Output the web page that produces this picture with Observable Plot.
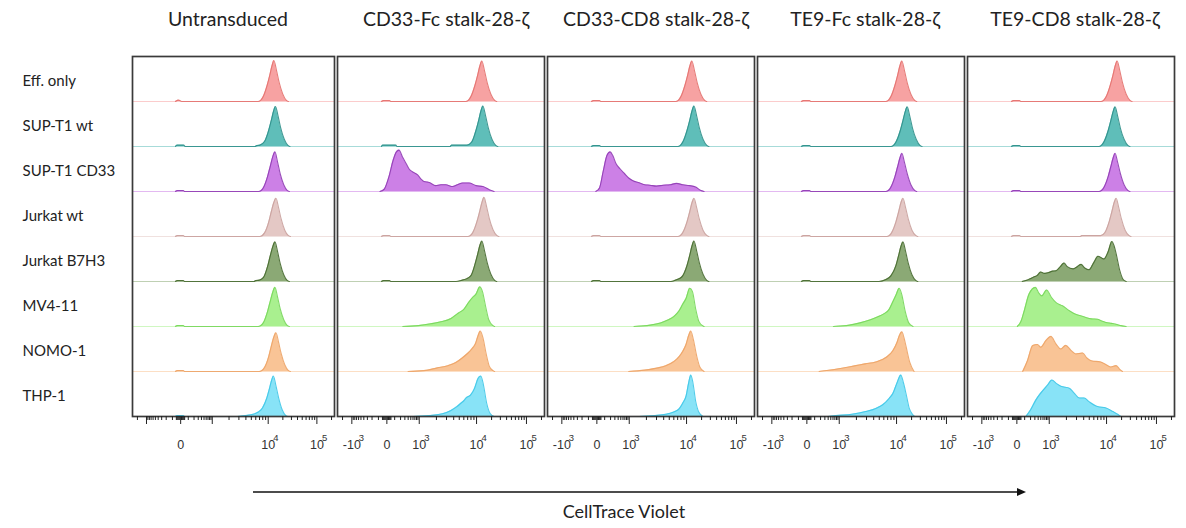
<!DOCTYPE html>
<html><head><meta charset="utf-8">
<script src="https://cdn.jsdelivr.net/npm/d3@7"></script>
<script src="https://cdn.jsdelivr.net/npm/@observablehq/plot@0.6"></script>
<style>
html,body{margin:0;padding:0;background:#fff;}
#chart{position:relative;width:1186px;height:528px;overflow:hidden;font-family:Lato,"Open Sans",sans-serif;color:#222;}
.title{position:absolute;top:9px;font-size:19.5px;line-height:20px;white-space:nowrap;transform:translateX(-50%);}
.panel{position:absolute;top:54px;}
.xlabel{position:absolute;top:502px;font-size:18px;line-height:18px;white-space:nowrap;transform:translateX(-50%);}
</style></head><body><div id="chart"></div>
<script>
const rows = ["Eff. only","SUP-T1 wt","SUP-T1 CD33","Jurkat wt","Jurkat B7H3","MV4-11","NOMO-1","THP-1"];
const titles = ["Untransduced","CD33-Fc stalk-28-ζ","CD33-CD8 stalk-28-ζ","TE9-Fc stalk-28-ζ","TE9-CD8 stalk-28-ζ"];
const fills = ["#f7a2a2","#5fbeb9","#cc80e6","#e4c8c5","#8ba975","#a9f08f","#f9c496","#88e3f7"];
const strokes = ["#e3716e","#2f8f8a","#8f3cb2","#c9a09c","#46692f","#77d65a","#eca366","#3fc7e7"];

// histogram outlines: [display position (decade units, 0 = zero), relative count]
const untransduced = [
 [[-0.10,0],[-0.04,0.03],[0.02,0],[1.50,0],[1.59,0.1],[1.67,0.36],[1.72,0.58],[1.765,0.8],[1.80,0.91],[1.85,0.69],[1.90,0.43],[1.97,0.17],[2.045,0.02],[2.08,0]],
 [[-0.10,0],[-0.07,0.03],[0.06,0.03],[0.09,0],[1.44,0],[1.47,0.02],[1.53,0.03],[1.62,0.11],[1.70,0.36],[1.75,0.58],[1.795,0.79],[1.83,0.89],[1.88,0.68],[1.93,0.42],[2.00,0.16],[2.075,0.02],[2.11,0]],
 [[-0.10,0],[-0.06,0.02],[0.05,0.02],[0.08,0],[1.51,0],[1.60,0.09],[1.68,0.34],[1.73,0.56],[1.78,0.78],[1.82,0.88],[1.87,0.66],[1.92,0.4],[1.99,0.15],[2.06,0.02],[2.10,0]],
 [[-0.10,0],[-0.06,0.02],[0.05,0.02],[0.08,0],[1.53,0],[1.62,0.08],[1.70,0.32],[1.75,0.55],[1.80,0.76],[1.84,0.85],[1.89,0.64],[1.94,0.39],[2.01,0.14],[2.08,0.02],[2.12,0]],
 [[-0.10,0],[-0.06,0.02],[0.05,0.02],[0.08,0],[1.42,0],[1.45,0.02],[1.52,0.03],[1.60,0.09],[1.68,0.34],[1.73,0.57],[1.78,0.78],[1.82,0.88],[1.87,0.67],[1.92,0.41],[1.99,0.15],[2.06,0.02],[2.10,0]],
 [[-0.10,0],[-0.06,0.02],[0.05,0.02],[0.08,0],[1.50,0],[1.60,0.09],[1.68,0.34],[1.73,0.56],[1.78,0.77],[1.82,0.87],[1.87,0.66],[1.92,0.4],[1.99,0.15],[2.06,0.02],[2.10,0]],
 [[-0.10,0],[-0.06,0.02],[0.05,0.02],[0.08,0],[1.52,0],[1.62,0.09],[1.70,0.33],[1.75,0.56],[1.80,0.77],[1.84,0.86],[1.89,0.65],[1.94,0.4],[2.01,0.15],[2.08,0.02],[2.12,0]],
 [[-0.10,0],[-0.06,0.02],[0.05,0.02],[0.08,0],[1.10,0],[1.25,0.02],[1.40,0.05],[1.50,0.1],[1.58,0.19],[1.66,0.4],[1.71,0.6],[1.755,0.8],[1.79,0.9],[1.84,0.68],[1.89,0.42],[1.96,0.15],[2.03,0.02],[2.07,0]]
];
const cd33Fc = [
 [[-0.10,0],[-0.06,0.02],[0.05,0.02],[0.08,0],[1.49,0],[1.58,0.1],[1.66,0.36],[1.71,0.58],[1.755,0.8],[1.79,0.9],[1.84,0.68],[1.89,0.42],[1.96,0.16],[2.035,0.02],[2.07,0]],
 [[-0.10,0],[-0.08,0.03],[0.17,0.03],[0.19,0],[1.19,0],[1.22,0.03],[1.51,0.03],[1.60,0.1],[1.68,0.36],[1.73,0.58],[1.775,0.8],[1.81,0.9],[1.86,0.68],[1.91,0.42],[1.98,0.16],[2.055,0.02],[2.09,0]],
 [[-0.13,0],[-0.05,0.05],[0.04,0.33],[0.12,0.7],[0.18,0.88],[0.23,0.92],[0.29,0.78],[0.36,0.63],[0.42,0.5],[0.48,0.44],[0.58,0.37],[0.64,0.28],[0.70,0.22],[0.80,0.2],[0.92,0.13],[1.02,0.15],[1.11,0.15],[1.24,0.11],[1.33,0.15],[1.43,0.19],[1.55,0.19],[1.68,0.13],[1.81,0.11],[1.93,0.04],[2.02,0]],
 [[-0.10,0],[-0.06,0.02],[0.05,0.02],[0.08,0],[1.53,0],[1.62,0.09],[1.70,0.34],[1.75,0.56],[1.795,0.77],[1.83,0.87],[1.88,0.66],[1.93,0.4],[2.00,0.15],[2.075,0.02],[2.11,0]],
 [[-0.10,0],[-0.06,0.02],[0.05,0.02],[0.08,0],[1.30,0],[1.42,0.03],[1.52,0.07],[1.59,0.14],[1.66,0.38],[1.71,0.6],[1.755,0.81],[1.79,0.9],[1.84,0.68],[1.89,0.42],[1.96,0.16],[2.035,0.02],[2.07,0]],
 [[0.30,0],[0.60,0.02],[0.83,0.06],[1.00,0.1],[1.21,0.18],[1.35,0.3],[1.45,0.38],[1.55,0.55],[1.62,0.65],[1.68,0.72],[1.75,0.88],[1.80,0.78],[1.86,0.45],[1.92,0.15],[2.00,0.02],[2.03,0]],
 [[0.40,0],[0.70,0.02],[0.95,0.08],[1.15,0.13],[1.30,0.2],[1.42,0.3],[1.52,0.4],[1.60,0.5],[1.67,0.62],[1.72,0.8],[1.76,0.9],[1.81,0.75],[1.87,0.4],[1.93,0.12],[2.00,0.02],[2.03,0]],
 [[0.50,0],[0.80,0.02],[1.05,0.06],[1.20,0.13],[1.32,0.22],[1.40,0.3],[1.45,0.35],[1.50,0.42],[1.58,0.48],[1.65,0.62],[1.72,0.85],[1.77,0.9],[1.82,0.7],[1.88,0.3],[1.95,0.06],[2.02,0]]
];
const cd33CD8 = [
 [[-0.10,0],[-0.06,0.02],[0.05,0.02],[0.08,0],[1.49,0],[1.58,0.1],[1.66,0.36],[1.71,0.58],[1.755,0.8],[1.79,0.9],[1.84,0.68],[1.89,0.42],[1.96,0.16],[2.035,0.02],[2.07,0]],
 [[-0.10,0],[-0.06,0.02],[0.05,0.02],[0.08,0],[1.53,0],[1.62,0.1],[1.70,0.36],[1.75,0.58],[1.795,0.8],[1.83,0.9],[1.88,0.68],[1.93,0.42],[2.00,0.16],[2.075,0.02],[2.11,0]],
 [[-0.02,0],[0.05,0.08],[0.12,0.45],[0.19,0.8],[0.25,0.88],[0.30,0.8],[0.36,0.62],[0.44,0.5],[0.52,0.4],[0.60,0.3],[0.68,0.24],[0.78,0.2],[0.90,0.15],[1.00,0.14],[1.12,0.12],[1.25,0.14],[1.38,0.15],[1.50,0.18],[1.62,0.15],[1.75,0.13],[1.86,0.1],[1.95,0.03],[2.02,0]],
 [[-0.10,0],[-0.06,0.02],[0.05,0.02],[0.08,0],[1.53,0],[1.62,0.09],[1.70,0.33],[1.75,0.55],[1.795,0.76],[1.83,0.85],[1.88,0.64],[1.93,0.39],[2.00,0.14],[2.075,0.02],[2.11,0]],
 [[-0.10,0],[-0.06,0.02],[0.05,0.02],[0.08,0],[1.40,0],[1.50,0.04],[1.60,0.1],[1.70,0.36],[1.75,0.58],[1.795,0.8],[1.83,0.9],[1.88,0.68],[1.93,0.42],[2.00,0.16],[2.075,0.02],[2.11,0]],
 [[0.70,0],[1.00,0.03],[1.20,0.08],[1.35,0.15],[1.45,0.22],[1.55,0.35],[1.62,0.5],[1.68,0.62],[1.75,0.85],[1.80,0.78],[1.86,0.4],[1.92,0.12],[2.00,0.01],[2.02,0]],
 [[0.60,0],[0.90,0.03],[1.15,0.08],[1.30,0.13],[1.45,0.22],[1.55,0.33],[1.62,0.45],[1.68,0.6],[1.73,0.8],[1.77,0.9],[1.82,0.7],[1.88,0.35],[1.94,0.1],[2.02,0]],
 [[0.80,0],[1.10,0.02],[1.30,0.05],[1.45,0.1],[1.55,0.17],[1.62,0.3],[1.68,0.45],[1.73,0.75],[1.77,0.92],[1.81,0.75],[1.86,0.35],[1.92,0.1],[2.00,0]]
];
const te9Fc = [
 [[-0.10,0],[-0.06,0.02],[0.05,0.02],[0.08,0],[1.49,0],[1.58,0.1],[1.66,0.36],[1.71,0.58],[1.755,0.8],[1.79,0.9],[1.84,0.68],[1.89,0.42],[1.96,0.16],[2.035,0.02],[2.07,0]],
 [[-0.10,0],[-0.06,0.02],[0.05,0.02],[0.08,0],[1.59,0],[1.68,0.1],[1.76,0.35],[1.81,0.57],[1.855,0.78],[1.89,0.88],[1.94,0.67],[1.99,0.41],[2.06,0.16],[2.135,0.02],[2.17,0]],
 [[-0.10,0],[-0.06,0.02],[0.05,0.02],[0.08,0],[1.49,0],[1.58,0.09],[1.66,0.33],[1.71,0.55],[1.755,0.75],[1.79,0.85],[1.84,0.64],[1.89,0.4],[1.96,0.15],[2.035,0.02],[2.07,0]],
 [[-0.10,0],[-0.06,0.02],[0.05,0.02],[0.08,0],[1.51,0],[1.60,0.09],[1.68,0.33],[1.73,0.55],[1.775,0.76],[1.81,0.85],[1.86,0.64],[1.91,0.39],[1.98,0.14],[2.055,0.02],[2.09,0]],
 [[-0.10,0],[-0.06,0.02],[0.05,0.02],[0.08,0],[1.35,0],[1.48,0.04],[1.58,0.12],[1.68,0.36],[1.73,0.58],[1.775,0.79],[1.81,0.88],[1.86,0.67],[1.91,0.41],[1.98,0.15],[2.055,0.02],[2.09,0]],
 [[0.50,0],[0.80,0.03],[1.00,0.08],[1.20,0.15],[1.35,0.22],[1.45,0.28],[1.55,0.38],[1.62,0.55],[1.68,0.7],[1.74,0.85],[1.79,0.7],[1.85,0.35],[1.92,0.08],[2.00,0]],
 [[0.23,0],[0.55,0.05],[0.92,0.13],[1.10,0.17],[1.30,0.21],[1.49,0.31],[1.62,0.46],[1.70,0.65],[1.74,0.79],[1.79,0.88],[1.83,0.75],[1.87,0.55],[1.94,0.2],[2.02,0]],
 [[0.40,0],[0.55,0.02],[0.85,0.05],[1.11,0.11],[1.30,0.18],[1.43,0.26],[1.55,0.4],[1.62,0.51],[1.70,0.75],[1.77,0.92],[1.82,0.75],[1.87,0.5],[1.93,0.18],[1.99,0.05],[2.03,0]]
];
const te9CD8 = [
 [[-0.10,0],[-0.06,0.02],[0.05,0.02],[0.08,0],[1.59,0],[1.68,0.1],[1.76,0.36],[1.81,0.58],[1.855,0.8],[1.89,0.9],[1.94,0.68],[1.99,0.42],[2.06,0.16],[2.135,0.02],[2.17,0]],
 [[-0.10,0],[-0.06,0.02],[0.05,0.02],[0.08,0],[1.55,0],[1.64,0.1],[1.72,0.35],[1.77,0.57],[1.815,0.78],[1.85,0.88],[1.90,0.67],[1.95,0.41],[2.02,0.16],[2.095,0.02],[2.13,0]],
 [[-0.10,0],[-0.06,0.02],[0.05,0.02],[0.08,0],[1.55,0],[1.64,0.09],[1.72,0.33],[1.77,0.55],[1.815,0.75],[1.85,0.85],[1.90,0.64],[1.95,0.4],[2.02,0.15],[2.095,0.02],[2.13,0]],
 [[-0.10,0],[-0.06,0.02],[0.05,0.02],[0.08,0],[1.20,0],[1.22,0.02],[1.58,0.02],[1.66,0.09],[1.74,0.33],[1.79,0.55],[1.835,0.76],[1.87,0.85],[1.92,0.64],[1.97,0.39],[2.04,0.14],[2.115,0.02],[2.15,0]],
 [[0.10,0],[0.17,0.02],[0.25,0.06],[0.32,0.1],[0.38,0.13],[0.45,0.21],[0.52,0.18],[0.60,0.2],[0.67,0.23],[0.74,0.24],[0.82,0.33],[0.89,0.41],[0.95,0.33],[1.06,0.28],[1.14,0.33],[1.21,0.38],[1.28,0.3],[1.36,0.26],[1.45,0.42],[1.53,0.56],[1.60,0.52],[1.64,0.5],[1.72,0.66],[1.79,0.89],[1.83,0.8],[1.87,0.62],[1.94,0.24],[2.00,0.05],[2.06,0]],
 [[0.01,0],[0.08,0.12],[0.14,0.35],[0.23,0.72],[0.35,0.87],[0.41,0.75],[0.47,0.68],[0.56,0.81],[0.65,0.65],[0.74,0.53],[0.86,0.46],[0.99,0.35],[1.11,0.27],[1.20,0.24],[1.30,0.2],[1.40,0.17],[1.52,0.16],[1.60,0.12],[1.68,0.09],[1.78,0.07],[1.87,0.05],[1.96,0.02],[2.06,0]],
 [[0.11,0],[0.20,0.24],[0.30,0.58],[0.39,0.6],[0.45,0.54],[0.55,0.69],[0.64,0.78],[0.74,0.61],[0.83,0.5],[0.92,0.58],[1.02,0.47],[1.11,0.39],[1.24,0.41],[1.32,0.3],[1.40,0.24],[1.58,0.21],[1.70,0.14],[1.77,0.1],[1.87,0.13],[1.93,0.06],[1.99,0]],
 [[0.17,0],[0.26,0.15],[0.36,0.37],[0.45,0.52],[0.58,0.7],[0.66,0.81],[0.75,0.73],[0.83,0.67],[0.99,0.63],[1.08,0.52],[1.18,0.41],[1.27,0.41],[1.36,0.33],[1.52,0.22],[1.68,0.19],[1.81,0.11],[1.90,0.05],[1.96,0]]
];
const panelCurves = [untransduced, cd33Fc, cd33CD8, te9Fc, te9CD8];

// biexponential axis
const majorTicks = [-1000, 0, 1000, 10000, 100000];
const labelBase = ["-10", "0", "10", "10", "10"];
const labelExp = ["3", "", "3", "4", "5"];
const minorTicks = [-2000,-900,-800,-700,-600,-500,-400,-300,-200,-100,-50,-40,-30,-20,-10,10,20,30,40,50,
  100,200,300,400,500,600,700,800,900,2000,3000,4000,5000,6000,7000,8000,9000,
  20000,30000,40000,50000,60000,70000,80000,90000,200000];
const anchorDisplay = [-0.66, 0, 0.61, 1.69, 2.63];
const xDomain = [-0.93, 2.97];
const asinhC = 150;
const biex = d3.scaleLinear().domain(majorTicks.map(v => Math.asinh(v / asinhC))).range(anchorDisplay);
const disp = v => biex(Math.asinh(v / asinhC));

const chart = document.getElementById("chart");
const frameLefts = [132, 337, 547, 757, 967];
const titleCenters = [228, 446, 656, 865, 1075];

function makePanel(i) {
  const first = i === 0;
  const frameW = first ? 202 : 207;
  const mL = first ? 132 : 1;
  const data = [];
  panelCurves[i].forEach((pts, r) => pts.forEach(([t, h]) => data.push({row: rows[r], t, h, fill: fills[r], stroke: strokes[r]})));
  const rowRecs = rows.map((row, r) => ({row, fill: fills[r], stroke: strokes[r]}));
  const tickLabels = majorTicks
    .map((v, k) => ({v, t: disp(v), base: labelBase[k], exp: labelExp[k]}))
    .filter(d => !(first && (d.v === -1000 || d.v === 1000)));
  const bottomRow = () => rows[rows.length - 1];
  const marks = [
    Plot.ruleY(rowRecs, {y: 0, fy: "row", stroke: d => d.fill, strokeOpacity: 0.55, strokeWidth: 1}),
    Plot.areaY(data, {x: "t", y: "h", fy: "row", z: "row", fill: d => d.fill, curve: "monotone-x"}),
    Plot.lineY(data, {x: "t", y: "h", fy: "row", z: "row", stroke: d => d.stroke, strokeWidth: 1.1, strokeOpacity: 0.9, curve: "monotone-x"}),
    Plot.frame({facet: "super", stroke: "#3a3a3a", strokeWidth: 1.7}),
    Plot.axisX(minorTicks.map(disp).filter(t => t > xDomain[0] && t < xDomain[1]), {facetAnchor: "bottom", tickSize: 4, tickFormat: () => "", label: null, stroke: "#222"}),
    Plot.axisX(majorTicks.map(disp), {facetAnchor: "bottom", tickSize: 8, tickFormat: () => "", label: null, stroke: "#222"}),
    Plot.text(tickLabels, {x: "t", fy: bottomRow, frameAnchor: "bottom", text: "base", dy: 32, fontSize: 12.5, fill: "#333"}),
    Plot.text(tickLabels.filter(d => d.base === "10"), {x: "t", fy: bottomRow, frameAnchor: "bottom", text: "exp", textAnchor: "start", dx: 5, dy: 24, fontSize: 9.5, fill: "#333"}),
    Plot.text(tickLabels.filter(d => d.base === "-10"), {x: "t", fy: bottomRow, frameAnchor: "bottom", text: "exp", textAnchor: "start", dx: 7, dy: 24, fontSize: 9.5, fill: "#333"})
  ];
  if (first) marks.push(Plot.text(rows, {fy: d => d, text: d => d, frameAnchor: "left", textAnchor: "start", dx: -110, dy: 2, fontSize: 15, fontFamily: "Lato", fill: "#222"}));
  const svg = Plot.plot({
    width: mL + frameW + 1, height: 1 + 362 + 40,
    marginLeft: mL, marginRight: 1, marginTop: 1, marginBottom: 40,
    style: {background: "transparent", overflow: "visible", fontFamily: "'Liberation Sans Narrow', sans-serif", fontSize: "12px"},
    x: {domain: xDomain, axis: null},
    y: {domain: [0, 1], axis: null},
    fy: {domain: rows, axis: null, padding: 0},
    marks
  });
  svg.classList.add("panel");
  svg.style.left = (frameLefts[i] - mL) + "px";
  chart.appendChild(svg);
  const t = document.createElement("div");
  t.className = "title"; t.textContent = titles[i]; t.style.left = titleCenters[i] + "px";
  chart.appendChild(t);
}
for (let i = 0; i < 5; i++) makePanel(i);

const ns = "http://www.w3.org/2000/svg";
const arrow = document.createElementNS(ns, "svg");
arrow.setAttribute("width", 1186); arrow.setAttribute("height", 20);
arrow.style.position = "absolute"; arrow.style.left = "0px"; arrow.style.top = "482px";
arrow.innerHTML = '<line x1="253" y1="10" x2="1018" y2="10" stroke="#111" stroke-width="1.3"/><path d="M1026,10 L1017,6 L1017,14 Z" fill="#111"/>';
chart.appendChild(arrow);
const xl = document.createElement("div");
xl.className = "xlabel"; xl.textContent = "CellTrace Violet"; xl.style.left = "624px";
chart.appendChild(xl);
</script></body></html>
